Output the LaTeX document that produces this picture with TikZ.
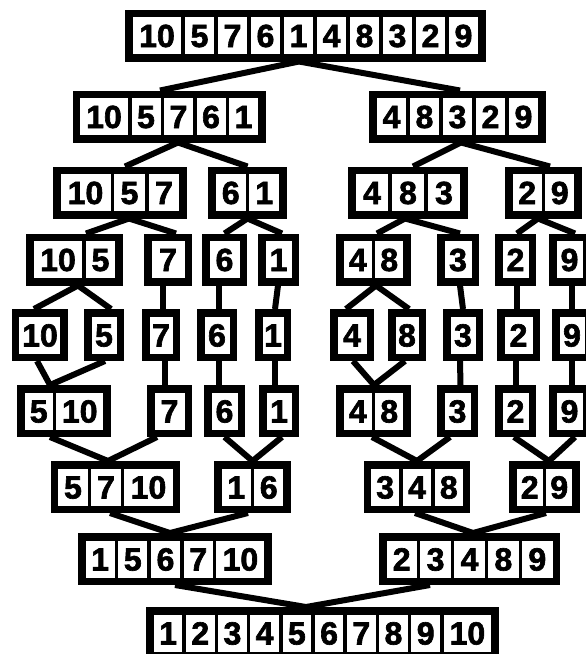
\documentclass[tikz,border=0pt]{standalone}
\usepackage{fontspec}
\newfontfamily\digitfont{Liberation Sans Bold}[FakeBold=2]
\usetikzlibrary{calc}
\newlength\cellw
\newlength\cellww
\setlength\fboxsep{0pt}
\newcommand\cellbox[2]{\colorbox{white}{\makebox[#1][c]{\rule[-7pt]{0pt}{37pt}#2}}}
\newcommand\ce[1]{\cellbox{\cellw}{#1}}
\newcommand\cee[1]{\setlength\cellww{\dimexpr\cellw+19pt\relax}\cellbox{\cellww}{#1}}
\newcommand\gp{\hspace{3.5pt}}
\newcommand\cwset[1]{\setlength\cellw{#1pt}}
\newcommand\link[4]{\draw[conn] ($(#1.south)+(#2,0)$) -- ($(#3.north)+(#4,0)$);}
\begin{document}
\begin{tikzpicture}[x=1pt,y=-1pt,
  arr/.style={fill=black,inner sep=7.5pt,outer sep=0pt,font=\digitfont\fontsize{32pt}{32pt}\selectfont},
  conn/.style={line width=6pt,black}]
\useasboundingbox[fill=white] (0,0) rectangle (586,654);
% row 1
\node[arr] (r1) at (305.5,35.5) {\cwset{29.5}\cee{10}\gp\ce{5}\gp\ce{7}\gp\ce{6}\gp\ce{1}\gp\ce{4}\gp\ce{8}\gp\ce{3}\gp\ce{2}\gp\ce{9}};
% row 2
\node[arr] (r2a) at (169,116.5) {\cwset{29}\cee{10}\gp\ce{5}\gp\ce{7}\gp\ce{6}\gp\ce{1}};
\node[arr] (r2b) at (457.5,116.5) {\cwset{29.5}\ce{4}\gp\ce{8}\gp\ce{3}\gp\ce{2}\gp\ce{9}};
% row 3
\node[arr] (r3a) at (120,192.5) {\cwset{31}\cee{10}\gp\ce{5}\gp\ce{7}};
\node[arr] (r3b) at (247.5,192.5) {\cwset{30}\ce{6}\gp\ce{1}};
\node[arr] (r3c) at (408,192.5) {\cwset{32.5}\ce{4}\gp\ce{8}\gp\ce{3}};
\node[arr] (r3d) at (543.5,192.5) {\cwset{29}\ce{2}\gp\ce{9}};
% row 4
\node[arr] (r4a) at (74.5,259.5) {\cwset{29.5}\cee{10}\gp\ce{5}};
\node[arr] (r4b) at (168,259.5) {\cwset{33}\ce{7}};
\node[arr] (r4c) at (224.5,259.5) {\cwset{30}\ce{6}};
\node[arr] (r4d) at (278.5,259.5) {\cwset{26}\ce{1}};
\node[arr] (r4e) at (373.5,259.5) {\cwset{28}\ce{4}\gp\ce{8}};
\node[arr] (r4f) at (458,259.5) {\cwset{27}\ce{3}};
\node[arr] (r4g) at (515.5,259.5) {\cwset{26}\ce{2}};
\node[arr] (r4h) at (569.5,259.5) {\cwset{26}\ce{9}};
% row 5
\node[arr] (r5a) at (40,335) {\cwset{22}\cee{10}};
\node[arr] (r5b) at (104,335) {\cwset{25}\ce{5}};
\node[arr] (r5c) at (161,335) {\cwset{23}\ce{7}};
\node[arr] (r5d) at (217,335) {\cwset{25}\ce{6}};
\node[arr] (r5e) at (273,335) {\cwset{21}\ce{1}};
\node[arr] (r5f) at (352,335) {\cwset{29}\ce{4}};
\node[arr] (r5g) at (407,335) {\cwset{23}\ce{8}};
\node[arr] (r5h) at (463,335) {\cwset{25}\ce{3}};
\node[arr] (r5i) at (518.5,335) {\cwset{28}\ce{2}};
\node[arr] (r5j) at (572,335) {\cwset{25}\ce{9}};
% row 6
\node[arr] (r6a) at (64,411) {\cwset{28}\ce{5}\gp\cee{10}};
\node[arr] (r6b) at (169.5,411) {\cwset{30}\ce{7}};
\node[arr] (r6c) at (224.5,411) {\cwset{26}\ce{6}};
\node[arr] (r6d) at (279,411) {\cwset{25}\ce{1}};
\node[arr] (r6e) at (373.5,411) {\cwset{28}\ce{4}\gp\ce{8}};
\node[arr] (r6f) at (457.5,411) {\cwset{26}\ce{3}};
\node[arr] (r6g) at (515.5,411) {\cwset{26}\ce{2}};
\node[arr] (r6h) at (569.5,411) {\cwset{26}\ce{9}};
% row 7
\node[arr] (r7a) at (115.5,487) {\cwset{29.5}\ce{5}\gp\ce{7}\gp\cee{10}};
\node[arr] (r7b) at (252.5,487) {\cwset{29}\ce{1}\gp\ce{6}};
\node[arr] (r7c) at (417,487) {\cwset{28.3}\ce{3}\gp\ce{4}\gp\ce{8}};
\node[arr] (r7d) at (544.5,487) {\cwset{26}\ce{2}\gp\ce{9}};
% row 8
\node[arr] (r8a) at (175,559) {\cwset{29.2}\ce{1}\gp\ce{5}\gp\ce{6}\gp\ce{7}\gp\cee{10}};
\node[arr] (r8b) at (469.5,559) {\cwset{30.4}\ce{2}\gp\ce{3}\gp\ce{4}\gp\ce{8}\gp\ce{9}};
% row 9
\node[arr] (r9) at (322.5,633) {\cwset{28.7}\ce{1}\gp\ce{2}\gp\ce{3}\gp\ce{4}\gp\ce{5}\gp\ce{6}\gp\ce{7}\gp\ce{8}\gp\ce{9}\gp\cee{10}};
% connectors
\link{r1}{-6.5}{r2a}{-9}
\link{r1}{-6.5}{r2b}{2.5}
\link{r2a}{9}{r3a}{5}
\link{r2a}{9}{r3b}{0}
\link{r2b}{3.5}{r3c}{5}
\link{r2b}{3.5}{r3d}{6.5}
\link{r3a}{9}{r4a}{11.5}
\link{r3a}{9}{r4b}{8}
\link{r3b}{0}{r4c}{0}
\link{r3b}{0}{r4d}{3.5}
\link{r3c}{-3}{r4e}{3.5}
\link{r3c}{-3}{r4f}{2}
\link{r3d}{-5.5}{r4g}{1.5}
\link{r3d}{-5.5}{r4h}{5.5}
\link{r4a}{3.5}{r5a}{-6}
\link{r4a}{3.5}{r5b}{7}
\link{r4b}{-5}{r5c}{2}
\link{r4c}{-5.5}{r5d}{2}
\link{r4d}{-0.5}{r5e}{2}
\link{r4e}{2.5}{r5f}{-6}
\link{r4e}{2.5}{r5g}{2}
\link{r4f}{2}{r5h}{0}
\link{r4g}{1.5}{r5i}{-1.5}
\link{r4h}{2.5}{r5j}{0}
\link{r5a}{-3}{r6a}{-14}
\link{r5b}{1}{r6a}{-14}
\link{r5c}{3.5}{r6b}{-5}
\link{r5d}{1.5}{r6c}{-6}
\link{r5e}{2}{r6d}{-4}
\link{r5f}{1}{r6e}{0.5}
\link{r5g}{-2}{r6e}{0.5}
\link{r5h}{-3}{r6f}{3}
\link{r5i}{-2.5}{r6g}{0.5}
\link{r5j}{0}{r6h}{2.5}
\link{r6a}{-14}{r7a}{-7.5}
\link{r6b}{-12.5}{r7a}{-7.5}
\link{r6c}{0}{r7b}{0}
\link{r6d}{3}{r7b}{0}
\link{r6e}{-1.5}{r7c}{0}
\link{r6f}{-7.5}{r7c}{0}
\link{r6g}{-1.5}{r7d}{4.5}
\link{r6h}{5.5}{r7d}{4.5}
\link{r7a}{-5.5}{r8a}{-5}
\link{r7b}{-4.5}{r8a}{-5}
\link{r7c}{-2}{r8b}{3.5}
\link{r7d}{1.5}{r8b}{3.5}
\link{r8a}{0}{r9}{-16.5}
\link{r8b}{-39.5}{r9}{-16.5}
\end{tikzpicture}
\end{document}
